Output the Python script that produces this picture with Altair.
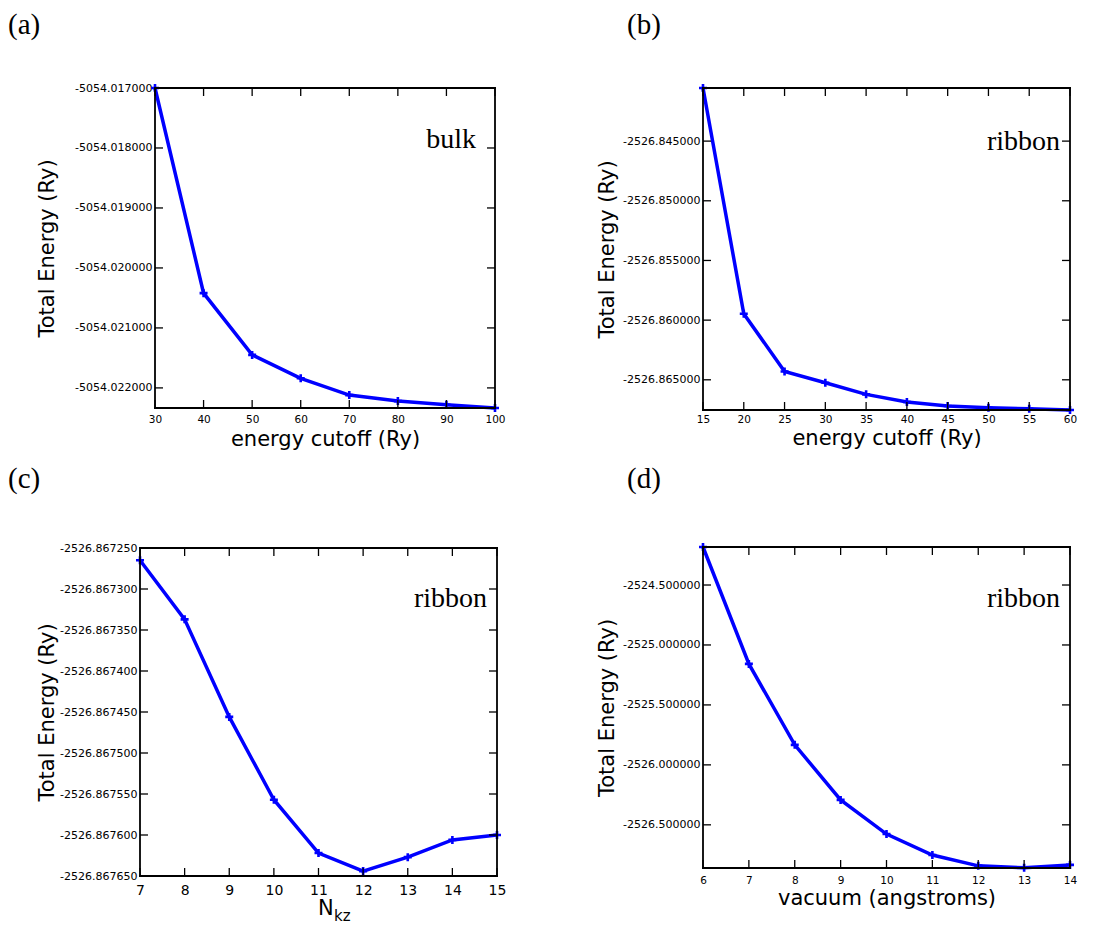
import altair as alt
import pandas as pd

SANS = "DejaVu Sans"
SERIF = "Liberation Serif"
BLUE = "#0000ff"
CROSS = "M-1,0L1,0M0,-1L0,1"
YTITLE = "Total Energy (Ry)"

# ---------------- data ----------------
# (a) bulk, energy cutoff
a_x = [30, 40, 50, 60, 70, 80, 90, 100]
a_y = [-5054.017000, -5054.020420, -5054.021450, -5054.021840,
       -5054.022120, -5054.022220, -5054.022280, -5054.022335]
a_xticks = [30, 40, 50, 60, 70, 80, 90, 100]
a_yticks = [-5054.017, -5054.018, -5054.019, -5054.020, -5054.021, -5054.022]
a_xdom = [30, 100]
a_ydom = [-5054.022335, -5054.017]

# (b) ribbon, energy cutoff
b_x = [15, 20, 25, 30, 35, 40, 45, 50, 55, 60]
b_y = [-2526.840550, -2526.859470, -2526.864300, -2526.865250, -2526.866220,
       -2526.866860, -2526.867200, -2526.867340, -2526.867420, -2526.867530]
b_xticks = [15, 20, 25, 30, 35, 40, 45, 50, 55, 60]
b_yticks = [-2526.845, -2526.850, -2526.855, -2526.860, -2526.865]
b_xdom = [15, 60]
b_ydom = [-2526.867530, -2526.840550]

# (c) ribbon, N_kz
c_x = [7, 8, 9, 10, 11, 12, 13, 14, 15]
c_y = [-2526.867265, -2526.867337, -2526.867456, -2526.867557, -2526.867622,
       -2526.867644, -2526.867627, -2526.867606, -2526.867600]
c_xticks = [7, 8, 9, 10, 11, 12, 13, 14, 15]
c_yticks = [-2526.867250, -2526.867300, -2526.867350, -2526.867400, -2526.867450,
            -2526.867500, -2526.867550, -2526.867600, -2526.867650]
c_xdom = [7, 15]
c_ydom = [-2526.867650, -2526.867250]

# (d) ribbon, vacuum
d_x = [6, 7, 8, 9, 10, 11, 12, 13, 14]
d_y = [-2524.183, -2525.158, -2525.833, -2526.292, -2526.577,
       -2526.752, -2526.842, -2526.858, -2526.834]
d_xticks = [6, 7, 8, 9, 10, 11, 12, 13, 14]
d_yticks = [-2524.5, -2525.0, -2525.5, -2526.0, -2526.5]
d_xdom = [6, 14]
d_ydom = [-2526.860, -2524.183]


def txt(s, font, size, align, x, y):
    return alt.Chart(pd.DataFrame({"t": [s]})).mark_text(
        font=font, fontSize=size, align=align, baseline="alphabetic", color="black"
    ).encode(text="t:N", x=alt.value(x), y=alt.value(y))


def panel(xs, ys, xticks, yticks, xdom, ydom, pw, h, xtitle,
          ytitle_pad, xlab_size, xlab_pad, xtitle_pad,
          note, note_dx, note_y, tag, tag_x, tag_y, xoff=0, extra=()):
    x0, x1 = xoff, xoff + pw
    df = pd.DataFrame({"x": xs, "y": ys})
    xsc = alt.Scale(domain=xdom, nice=False, zero=False, range=[x0, x1])
    ysc = alt.Scale(domain=ydom, nice=False, zero=False)
    xaxis = alt.Axis(values=xticks, title=xtitle, format="d",
                     labelFontSize=xlab_size, labelPadding=xlab_pad,
                     titleFontSize=21, titlePadding=xtitle_pad)
    yaxis = alt.Axis(values=yticks, title=YTITLE, offset=-xoff,
                     labelExpr="'-' + format(abs(datum.value), '.6f')",
                     labelFontSize=11, labelPadding=3,
                     titleFontSize=21, titlePadding=ytitle_pad)
    X = alt.X("x:Q", scale=xsc, axis=xaxis)
    Y = alt.Y("y:Q", scale=ysc, axis=yaxis)
    line = alt.Chart(df).mark_line(color=BLUE, strokeWidth=3.5).encode(x=X, y=Y)
    pts = alt.Chart(df).mark_point(shape=CROSS, size=64, filled=False,
                                   color=BLUE, strokeWidth=2.6, opacity=1).encode(x=X, y=Y)
    ytdf = pd.DataFrame({"y": yticks})
    xtdf = pd.DataFrame({"x": xticks})
    rule = dict(color="black", strokeWidth=1.3)
    yl = alt.Chart(ytdf).mark_rule(**rule).encode(
        y=Y, x=alt.value(x0), x2=alt.value(x0 + 8))
    yr = alt.Chart(ytdf).mark_rule(**rule).encode(
        y=Y, x=alt.value(x1 - 8), x2=alt.value(x1))
    xb = alt.Chart(xtdf).mark_rule(**rule).encode(
        x=X, y=alt.value(h - 8), y2=alt.value(h))
    xt = alt.Chart(xtdf).mark_rule(**rule).encode(
        x=X, y=alt.value(0), y2=alt.value(8))
    one = pd.DataFrame({"k": [0]})
    fr = dict(color="black", strokeWidth=1.8, strokeCap="square")
    f_l = alt.Chart(one).mark_rule(**fr).encode(x=alt.value(x0), y=alt.value(0), y2=alt.value(h))
    f_r = alt.Chart(one).mark_rule(**fr).encode(x=alt.value(x1), y=alt.value(0), y2=alt.value(h))
    f_t = alt.Chart(one).mark_rule(**fr).encode(y=alt.value(0), x=alt.value(x0), x2=alt.value(x1))
    f_b = alt.Chart(one).mark_rule(**fr).encode(y=alt.value(h), x=alt.value(x0), x2=alt.value(x1))
    note_l = txt(note, SERIF, 28, "right", x1 - note_dx, note_y)
    tag_l = txt(tag, SERIF, 29, "left", tag_x, tag_y)
    layers = [line, pts, yl, yr, xb, xt, f_l, f_r, f_t, f_b, note_l, tag_l] + list(extra)
    return alt.layer(*layers).properties(width=x1, height=h)


pa = panel(a_x, a_y, a_xticks, a_yticks, a_xdom, a_ydom, 340, 320,
           "energy cutoff (Ry)", 17, 10.5, 6, 4,
           "bulk", 19, 60, "(a)", -147, -54)

pb = panel(b_x, b_y, b_xticks, b_yticks, b_xdom, b_ydom, 367, 322,
           "energy cutoff (Ry)", 5, 10.5, 4, 3,
           "ribbon", 10, 62, "(b)", -76, -54)

# (c): plot sits 15 px left of the column origin shared with (a)
pc = panel(c_x, c_y, c_xticks, c_yticks, c_xdom, c_ydom, 357, 328,
           None, 2, 14, 7, 0,
           "ribbon", 10, 59, "(c)", -147, -60, xoff=-15,
           extra=(txt("N", SANS, 21, "left", 163, 367),
                  txt("kz", SANS, 15, "left", 179, 373)))

pd_ = panel(d_x, d_y, d_xticks, d_yticks, d_xdom, d_ydom, 367, 321,
            "vacuum (angstroms)", 5, 10.5, 7, 2,
            "ribbon", 10, 60, "(d)", -76, -59)

chart = alt.concat(
    pa, pb, pc, pd_, columns=2, align="none",
    spacing=alt.RowColnumber(row=15, column=84),
).properties(
    padding={"top": 3, "left": 0, "right": 0, "bottom": 0}
).configure_view(
    strokeWidth=0
).configure_axis(
    grid=False, domain=False, ticks=False, tickSize=0,
    labelFont=SANS, titleFont=SANS, labelColor="black", titleColor="black",
    titleFontWeight="normal", labelFlush=False, labelOverlap=False,
)

chart.save("out.html", embed_options={"renderer": "svg", "actions": False})
